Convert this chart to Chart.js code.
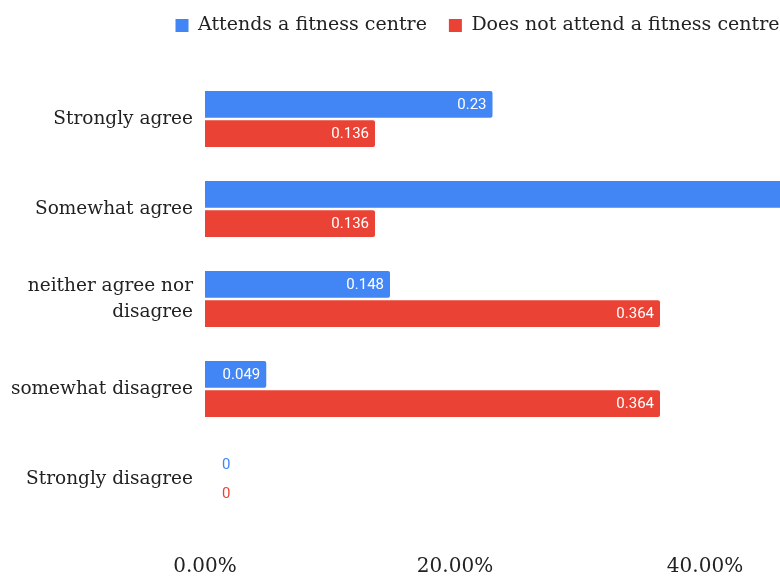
<!DOCTYPE html>
<html lang="en">
<head>
    <meta charset="UTF-8">
    <title>Fitness centre attendance</title>
    <script src="https://cdn.jsdelivr.net/npm/chart.js"></script>
    <style>
        html, body {
            margin: 0;
            padding: 0;
            overflow: hidden;
            background: #fff;
        }
        .wrap {
            position: relative;
            width: 960px;
            height: 579px;
        }
    </style>
</head>
<body>
    <div class="wrap">
        <canvas id="surveyChart"></canvas>
    </div>

    <script>
        // answers and shares per group
        const categories = [
            'Strongly agree',
            'Somewhat agree',
            ['neither agree nor', 'disagree'],
            'somewhat disagree',
            'Strongly disagree'
        ];
        const attends = [0.23, 0.573, 0.148, 0.049, 0];
        const doesNotAttend = [0.136, 0.136, 0.364, 0.364, 0];
        const xTicks = [0, 0.2, 0.4, 0.6];

        const serif = '"DejaVu Serif", Georgia, serif';

        // value text at the end of each bar
        const barValues = {
            id: 'barValues',
            afterDatasetsDraw(chart) {
                const ctx = chart.ctx;
                ctx.save();
                ctx.font = '15px Roboto, sans-serif';
                ctx.textBaseline = 'middle';
                chart.data.datasets.forEach((ds, i) => {
                    const meta = chart.getDatasetMeta(i);
                    meta.data.forEach((bar, j) => {
                        const v = ds.data[j];
                        if (v > 0) {
                            ctx.fillStyle = '#ffffff';
                            ctx.textAlign = 'right';
                            ctx.fillText(String(v), bar.x - 6, bar.y + 1);
                        } else {
                            ctx.fillStyle = ds.backgroundColor;
                            ctx.textAlign = 'left';
                            ctx.fillText(String(v), bar.base + 17, bar.y + 1);
                        }
                    });
                });
                ctx.restore();
            }
        };

        // extra room under the legend
        const legendGap = {
            id: 'legendGap',
            beforeInit(chart) {
                const fit = chart.legend.fit;
                chart.legend.fit = function () {
                    fit.bind(chart.legend)();
                    this.height += 29;
                };
            }
        };

        new Chart(document.getElementById('surveyChart'), {
            type: 'bar',
            data: {
                labels: categories,
                datasets: [
                    {
                        label: 'Attends a fitness centre',
                        data: attends,
                        backgroundColor: '#4285f4',
                        borderRadius: 2,
                        borderSkipped: 'start',
                        categoryPercentage: 0.65,
                        barPercentage: 0.92
                    },
                    {
                        label: 'Does not attend a fitness centre',
                        data: doesNotAttend,
                        backgroundColor: '#ea4335',
                        borderRadius: 2,
                        borderSkipped: 'start',
                        categoryPercentage: 0.65,
                        barPercentage: 0.92
                    }
                ]
            },
            options: {
                indexAxis: 'y',
                responsive: true,
                maintainAspectRatio: false,
                animation: false,
                layout: {
                    padding: { top: -6, right: 5, left: 0, bottom: 0 }
                },
                plugins: {
                    tooltip: { enabled: false },
                    legend: {
                        position: 'top',
                        align: 'center',
                        labels: {
                            boxWidth: 13,
                            boxHeight: 13,
                            padding: 22,
                            color: '#222',
                            font: { family: serif, size: 19 }
                        }
                    }
                },
                scales: {
                    x: {
                        min: 0,
                        max: 0.6,
                        afterBuildTicks(scale) {
                            scale.ticks = xTicks.map(v => ({ value: v }));
                        },
                        afterFit(scale) {
                            scale.height = 55;
                            scale.paddingLeft = 0;
                            scale.paddingRight = 0;
                        },
                        grid: { display: false, drawTicks: false },
                        border: { display: false },
                        ticks: {
                            padding: 31,
                            color: '#222',
                            font: { family: serif, size: 20 },
                            callback: v => (v * 100).toFixed(2) + '%'
                        }
                    },
                    y: {
                        afterFit(scale) {
                            scale.width = 205;
                        },
                        grid: { display: false, drawTicks: false },
                        border: { display: false },
                        ticks: {
                            padding: 12,
                            color: '#222',
                            font: { family: serif, size: 18.5, lineHeight: 1.4 }
                        }
                    }
                }
            },
            plugins: [barValues, legendGap]
        });
    </script>
</body>
</html>
